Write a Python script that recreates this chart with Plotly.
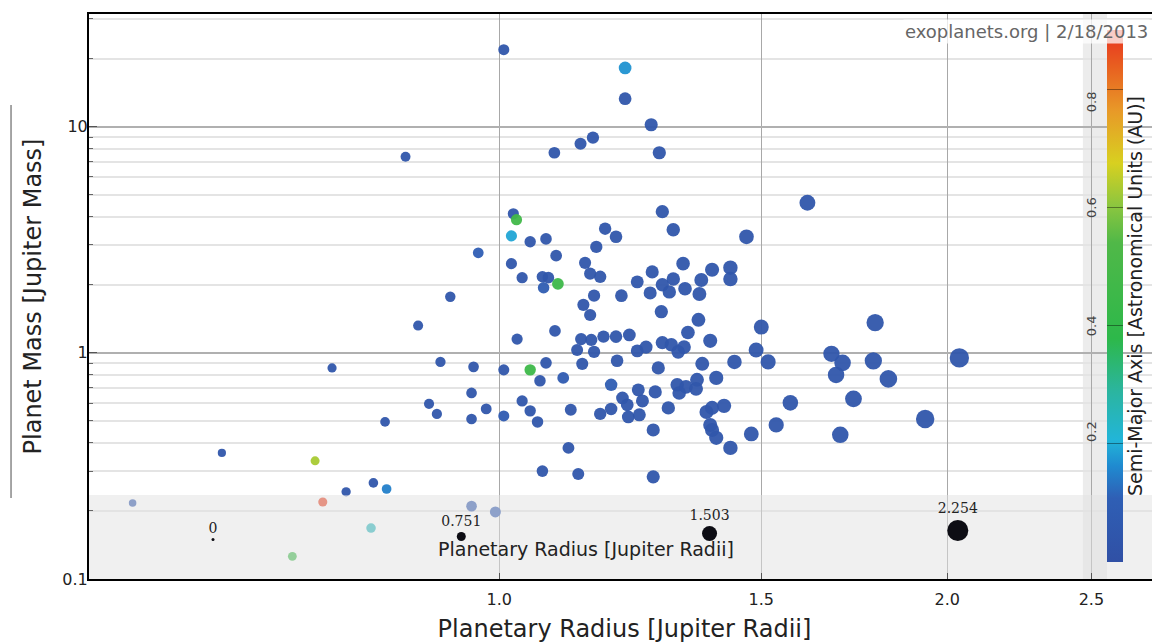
import math
import plotly.graph_objects as go

# ---------------- data ----------------
radius = [0.567, 0.651, 0.752, 0.761, 0.726, 0.772, 0.789, 0.823, 0.840, 0.820,
          0.838, 0.865, 0.882, 0.927, 0.968, 0.913, 0.961, 1.007, 1.049, 1.075,
          1.137, 1.028, 1.090, 1.128, 1.065, 1.104, 0.958, 0.897, 0.908, 0.980,
          0.958, 1.007, 1.036, 1.049, 1.061, 1.117, 1.169, 1.113, 1.069, 1.130,
          0.958, 0.994, 1.007, 1.215, 1.215, 1.265, 1.281, 1.134, 1.156, 1.089,
          1.611, 1.287, 1.022, 1.027, 1.178, 1.198, 1.309, 1.466, 1.019, 1.049,
          1.075, 1.092, 1.162, 1.019, 1.142, 1.329, 1.267, 1.151, 1.169, 1.036,
          1.069, 1.079, 1.238, 1.309, 1.287, 1.367, 1.390, 1.430, 1.430, 1.071,
          1.095, 1.158, 1.208, 1.263, 1.301, 1.333, 1.363, 1.139, 1.151, 1.285,
          1.361, 1.500, 1.789, 1.339, 1.135, 1.153, 1.175, 1.198, 1.223, 1.158,
          1.238, 1.255, 1.287, 1.305, 1.319, 1.331, 1.386, 1.488, 1.516, 1.439,
          1.369, 1.279, 1.200, 1.189, 1.399, 1.317, 1.335, 1.358, 1.356, 1.321,
          1.240, 1.273, 1.248, 1.210, 1.219, 1.189, 1.221, 1.242, 1.299, 1.269,
          1.269, 1.378, 1.390, 1.416, 1.386, 1.390, 1.399, 1.430, 1.477, 1.535,
          1.569, 1.672, 1.701, 1.684, 1.784, 1.826, 1.730, 1.933, 1.695, 2.038]

mass = [0.217, 0.361, 0.333, 0.219, 0.126, 0.858, 0.243, 0.266, 0.250, 0.168,
        0.495, 7.37, 1.32, 1.77, 2.77, 0.912, 0.867, 0.841, 0.841, 0.903,
        0.894, 1.15, 1.25, 1.03, 0.752, 0.775, 0.665, 0.595, 0.537, 0.565,
        0.510, 0.526, 0.613, 0.554, 0.495, 0.560, 0.537, 0.380, 0.300, 0.291,
        0.210, 0.198, 21.9, 18.2, 13.3, 10.2, 7.67, 8.41, 8.94, 7.67,
        4.61, 4.21, 4.12, 3.88, 3.54, 3.26, 3.50, 3.26, 3.29, 3.10,
        3.19, 2.69, 2.94, 2.48, 2.50, 2.48, 2.28, 2.24, 2.17, 2.15,
        2.17, 2.15, 2.06, 2.12, 2.00, 2.10, 2.33, 2.38, 2.12, 1.94,
        2.02, 1.79, 1.79, 1.84, 1.86, 1.92, 1.82, 1.63, 1.47, 1.52,
        1.40, 1.30, 1.36, 1.23, 1.15, 1.14, 1.18, 1.18, 1.20, 1.01,
        1.02, 1.06, 1.11, 1.085, 1.01, 1.06, 1.13, 1.03, 0.912, 0.912,
        0.894, 0.858, 0.922, 0.722, 0.775, 0.722, 0.707, 0.760, 0.693, 0.665,
        0.686, 0.672, 0.613, 0.632, 0.589, 0.565, 0.521, 0.532, 0.571, 0.456,
        0.283, 0.548, 0.571, 0.583, 0.480, 0.456, 0.421, 0.380, 0.438, 0.480,
        0.601, 0.99, 0.903, 0.799, 0.922, 0.767, 0.626, 0.510, 0.434, 0.95]

semi_major_axis = [0.04, 0.04, 0.63, 0.88, 0.45, 0.04, 0.04, 0.04, 0.15, 0.25,
                   0.04, 0.04, 0.04, 0.04, 0.10, 0.04, 0.04, 0.04, 0.45, 0.04,
                   0.04, 0.04, 0.04, 0.04, 0.04, 0.08, 0.04, 0.04, 0.04, 0.04,
                   0.04, 0.08, 0.04, 0.04, 0.04, 0.04, 0.04, 0.04, 0.04, 0.04,
                   0.05, 0.06, 0.04, 0.17, 0.04, 0.04, 0.04, 0.04, 0.04, 0.04,
                   0.04, 0.04, 0.04, 0.47, 0.04, 0.04, 0.04, 0.04, 0.19, 0.04,
                   0.04, 0.04, 0.04, 0.04, 0.04, 0.04, 0.04, 0.04, 0.04, 0.04,
                   0.04, 0.04, 0.04, 0.04, 0.04, 0.04, 0.04, 0.04, 0.04, 0.09,
                   0.45, 0.04, 0.04, 0.04, 0.04, 0.04, 0.04, 0.04, 0.04, 0.04,
                   0.04, 0.04, 0.04, 0.04, 0.04, 0.04, 0.04, 0.04, 0.04, 0.04,
                   0.04, 0.04, 0.04, 0.04, 0.04, 0.04, 0.04, 0.04, 0.04, 0.04,
                   0.04, 0.04, 0.04, 0.09, 0.04, 0.04, 0.04, 0.04, 0.04, 0.04,
                   0.04, 0.04, 0.04, 0.04, 0.04, 0.04, 0.04, 0.04, 0.04, 0.04,
                   0.04, 0.04, 0.04, 0.04, 0.04, 0.04, 0.04, 0.04, 0.04, 0.04,
                   0.04, 0.04, 0.04, 0.04, 0.04, 0.04, 0.04, 0.04, 0.04, 0.04]

size_legend_values = [0, 0.751, 1.503, 2.254]
x_tick_values = [1.0, 1.5, 2.0, 2.5]
x_tick_labels = ["1.0", "1.5", "2.0", "2.5"]
y_tick_values = [0.1, 1, 10]
y_tick_labels = ["0.1", "1", "10"]
cbar_tick_values = [0.2, 0.4, 0.6, 0.8]

X_TITLE = "Planetary Radius [Jupiter Radii]"
Y_TITLE = "Planet Mass [Jupiter Mass]"
C_TITLE = "Semi-Major Axis [Astronomical Units (AU)]"
WATERMARK = "exoplanets.org | 2/18/2013"

# ---------------- styling ----------------
FONT = "DejaVu Sans"
CMIN, CMAX = 0.0, 0.9
colorscale = [
    [0.00, "#3050a5"], [0.12, "#2f5fb5"], [0.18, "#1f8ad0"], [0.23, "#22b5d8"],
    [0.32, "#2bb5a0"], [0.42, "#2db84a"], [0.60, "#50b848"], [0.67, "#8cc63f"],
    [0.75, "#d8d020"], [0.85, "#e89828"], [0.93, "#e86020"], [1.00, "#e83020"],
]


def marker_px(r):
    return 3 + 8 * r


PLOT_H = 565.0
CB_Y0, CB_LEN, CB_X = 0.030, 0.9417, 0.9505
BAND_H = 84 / PLOT_H

fig = go.Figure()

fig.add_trace(go.Scatter(
    x=radius, y=mass, mode="markers", showlegend=False, hoverinfo="x+y",
    marker=dict(size=[marker_px(r) for r in radius], color=semi_major_axis,
                colorscale=colorscale, cmin=CMIN, cmax=CMAX, opacity=0.95,
                line=dict(width=0),
                colorbar=dict(x=CB_X, xanchor="left", xpad=0, y=CB_Y0, yanchor="bottom",
                              ypad=0, len=CB_LEN, lenmode="fraction", thickness=16,
                              outlinewidth=0, showticklabels=False,
                              tickmode="array", tickvals=cbar_tick_values,
                              ticks="inside", ticklen=16, tickcolor="rgba(0,0,0,0.4)",
                              title=dict(text=C_TITLE, side="right",
                                         font=dict(family=FONT, size=19, color="#222")))),
    xaxis="x", yaxis="y"))

# semi-transparent legend band (drawn over the data)
fig.add_trace(go.Scatter(
    x=[0, 1, 1, 0, 0], y=[0, 0, BAND_H, BAND_H, 0], mode="lines", fill="toself",
    fillcolor="rgba(226,226,226,0.5)", line=dict(width=0), hoverinfo="skip",
    showlegend=False, xaxis="x2", yaxis="y2"))

# size legend (drawn over the band)
leg_sizes = [marker_px(v) for v in size_legend_values]
leg_x = [0.1158 + 0.2318 * i for i in range(len(size_legend_values))]
leg_y = [(38 + s / 2) / PLOT_H for s in leg_sizes]
fig.add_trace(go.Scatter(
    x=leg_x, y=leg_y, mode="markers+text", text=[f"{v:g}" for v in size_legend_values],
    textposition="top center", textfont=dict(family="DejaVu Serif", size=14, color="#222"),
    marker=dict(size=leg_sizes, color="#0d0d14", opacity=1, line=dict(width=0)),
    hoverinfo="skip", showlegend=False, xaxis="x3", yaxis="y3"))

annotations = [
    dict(text=X_TITLE, xref="paper", yref="paper", x=0.464, y=17 / PLOT_H,
         showarrow=False, font=dict(family=FONT, size=19, color="#222")),
    dict(text=WATERMARK, xref="paper", yref="paper", x=0.9907, xanchor="right",
         y=1 - 5 / PLOT_H, yanchor="top", showarrow=False, bgcolor="rgba(255,255,255,0.75)",
         font=dict(family=FONT, size=18, color="#666")),
]
for v in cbar_tick_values:
    annotations.append(dict(text=f"{v:.1f}", xref="paper", yref="paper", x=0.945,
                            y=CB_Y0 + (v - CMIN) / (CMAX - CMIN) * CB_LEN, textangle=-90,
                            showarrow=False, font=dict(family=FONT, size=13, color="#444")))

fig.update_layout(
    # the page adds an 8px body margin, so the figure is 8px smaller and offset
    width=1152, height=635, autosize=False,
    margin=dict(l=81, r=0, t=6, b=64, autoexpand=False),
    paper_bgcolor="white", plot_bgcolor="white",
    font=dict(family=FONT, color="#222"),
    xaxis=dict(type="log", range=[math.log10(0.53), math.log10(2.78)],
               tickmode="array", tickvals=x_tick_values, ticktext=x_tick_labels,
               showgrid=True, gridcolor="#a8a8a8", gridwidth=1, zeroline=False,
               showline=True, linecolor="black", linewidth=2, mirror=True,
               ticks="inside", ticklen=6, tickcolor="#555", ticklabelstandoff=5,
               tickfont=dict(size=16, color="#222"),
               title=dict(text=X_TITLE, font=dict(size=24, color="#222"), standoff=12)),
    yaxis=dict(type="log", range=[-1, math.log10(31.5)],
               tickmode="array", tickvals=y_tick_values, ticktext=y_tick_labels,
               showgrid=True, gridcolor="#b0b0b0", gridwidth=1.5, zeroline=False,
               showline=True, linecolor="black", linewidth=2,
               ticks="inside", ticklen=8, tickcolor="#555", ticklabelstandoff=-4,
               tickfont=dict(size=16, color="#222"),
               minor=dict(dtick="D1", showgrid=True, gridcolor="#e4e4e4", ticks="inside",
                          ticklen=4, tickcolor="#666"),
               title=dict(text=Y_TITLE, font=dict(size=24, color="#222"), standoff=14)),
    xaxis2=dict(overlaying="x", range=[0, 1], visible=False, fixedrange=True),
    yaxis2=dict(overlaying="y", range=[0, 1], visible=False, fixedrange=True),
    xaxis3=dict(overlaying="x", range=[0, 1], visible=False, fixedrange=True),
    yaxis3=dict(overlaying="y", range=[0, 1], visible=False, fixedrange=True),
    shapes=[
        dict(type="rect", xref="paper", yref="paper", x0=0.928, x1=CB_X, y0=0, y1=1,
             fillcolor="#ececec", line=dict(width=0), layer="below"),
        dict(type="line", xref="paper", yref="paper", x0=-0.0728, x1=-0.0728,
             y0=0.1434, y1=0.839, line=dict(color="#888", width=1.5)),
    ],
    annotations=annotations,
    showlegend=False,
)

fig.write_html("out.html")
